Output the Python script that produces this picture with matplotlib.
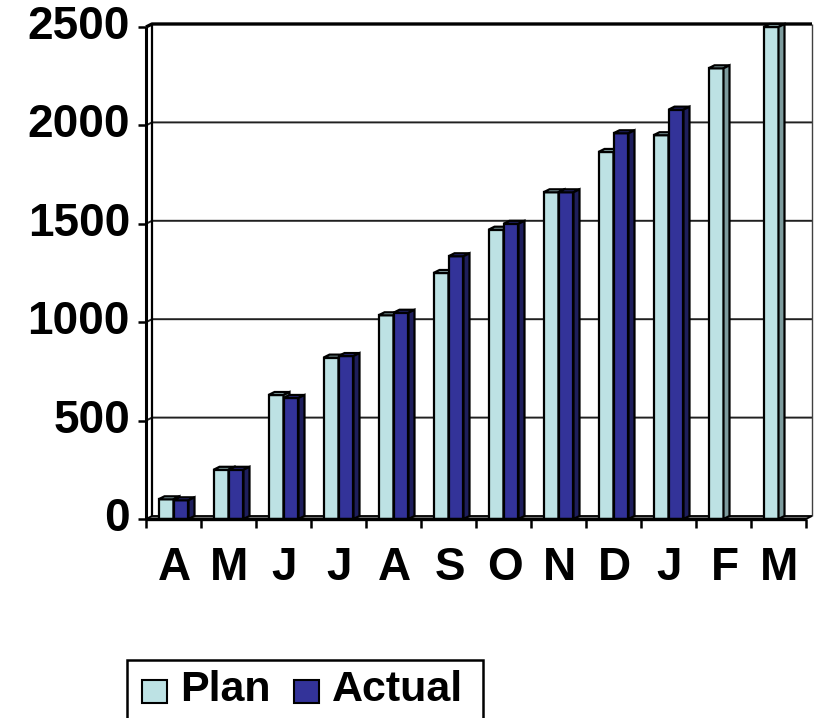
import matplotlib
matplotlib.use("Agg")
import matplotlib.pyplot as plt
from matplotlib.patches import Polygon, Rectangle
from matplotlib.transforms import IdentityTransform

# ---- data ----
months = ["A", "M", "J", "J", "A", "S", "O", "N", "D", "J", "F", "M"]
plan = [100, 250, 630, 820, 1035, 1250, 1470, 1660, 1865, 1950, 2290, 2500]
actual = [95, 250, 615, 828, 1048, 1335, 1500, 1660, 1960, 2080, None, None]
yticks = [0, 500, 1000, 1500, 2000, 2500]
series_names = ["Plan", "Actual"]

# ---- style ----
W, H = 815, 718
plan_cols = ("#BDE2E4", "#93B3B5", "#7D9B9D")      # front, top, side
act_cols = ("#333399", "#28287A", "#1E1E5C")
depth_dx, depth_dy = 6, 3                          # pixels of 3-D depth
bar_w = 0.2727                                      # bar width in category units
font = "Liberation Sans"
lw = 1.6

fig = plt.figure(figsize=(W / 100, H / 100), dpi=100)
ax = fig.add_axes([146 / W, 1 - 519 / H, (806 - 146) / W, (519 - 27) / H])
ax.set_xlim(0, len(months))
ax.set_ylim(0, 2500)
ax.axis("off")

ident = IdentityTransform()


def px(x, y, back=False):
    X, Y = ax.transData.transform((x, y))
    if back:
        X += depth_dx
        Y += depth_dy
    return (X, Y)


def poly(pts, fc, ec="black", lw=lw, z=2):
    p = Polygon(pts, closed=True, facecolor=fc, edgecolor=ec, linewidth=lw,
                transform=ident, zorder=z, clip_on=False, joinstyle="miter")
    fig.add_artist(p)


def line(pts, color="black", lw=lw, z=2):
    xs, ys = zip(*pts)
    fig.add_artist(plt.Line2D(xs, ys, color=color, linewidth=lw,
                              transform=ident, zorder=z, solid_capstyle="butt"))


n = len(months)

# back wall
poly([px(0, 0, True), px(n, 0, True), px(n, 2500, True), px(0, 2500, True)],
     "white", ec="none", z=1)
for v in yticks[1:-1]:
    line([px(0, v), px(0, v, True), px(n, v, True)], color="#202020", lw=1.4, z=1.5)
line([px(0, 2500), px(0, 2500, True), px(n, 2500, True)], lw=2.4, z=1.6)
line([px(n, 0, True), px(n, 2500, True)], color="#404040", lw=1.0, z=1.6)
line([px(0, 0, True), px(0, 2500, True)], lw=1.6, z=1.6)

# floor
poly([px(0, 0), px(n, 0), px(n, 0, True), px(0, 0, True)], "#808080", lw=1.3, z=1.7)

# value axis and ticks
line([px(0, 0), px(0, 2500)], lw=2.2, z=5)
for v in yticks:
    X, Y = px(0, v)
    line([(X - 8, Y), (X, Y)], lw=1.8, z=5)
    fig.text((X - 16) / W, Y / H, str(v), ha="right", va="center",
             fontsize=33, fontweight="bold", family=font)

# category axis and ticks
line([px(0, 0), px(n, 0)], lw=2.4, z=5)
for i in range(n + 1):
    X, Y = px(i, 0)
    line([(X, Y), (X, Y - 9)], lw=1.8, z=5)
for i, m in enumerate(months):
    X, Y = px(i + 0.5, 0)
    fig.text((X + 1) / W, (Y - 49) / H, m, ha="center", va="center",
             fontsize=33, fontweight="bold", family=font)


def bar3d(x0, x1, v, cols, z):
    front, top, side = cols
    poly([px(x0, 0), px(x1, 0), px(x1, v), px(x0, v)], front, z=z)
    poly([px(x0, v), px(x1, v), px(x1, v, True), px(x0, v, True)], top, z=z)
    poly([px(x1, 0), px(x1, 0, True), px(x1, v, True), px(x1, v)], side, z=z)


for i in range(n):
    c = i + 0.5
    bar3d(c - bar_w, c, plan[i], plan_cols, z=3 + i * 0.01)
    if actual[i] is not None:
        bar3d(c, c + bar_w, actual[i], act_cols, z=3.005 + i * 0.01)

# legend
fig.add_artist(Rectangle((127, -20), 483 - 127, (718 - 660) + 20, transform=ident,
                         facecolor="white", edgecolor="black", linewidth=1.8,
                         zorder=6, clip_on=False))
fig.add_artist(Rectangle((142, H - 703), 25, 23, transform=ident,
                         facecolor=plan_cols[0], edgecolor="black", linewidth=1.5, zorder=7))
fig.add_artist(Rectangle((294, H - 703), 25, 23, transform=ident,
                         facecolor=act_cols[0], edgecolor="black", linewidth=1.5, zorder=7))
fig.text(180 / W, (H - 690) / H, series_names[0], ha="left", va="center",
         fontsize=31, fontweight="bold", family=font, zorder=8)
fig.text(332 / W, (H - 690) / H, series_names[1], ha="left", va="center",
         fontsize=31, fontweight="bold", family=font, zorder=8)

fig.savefig("out.png", dpi=100)
